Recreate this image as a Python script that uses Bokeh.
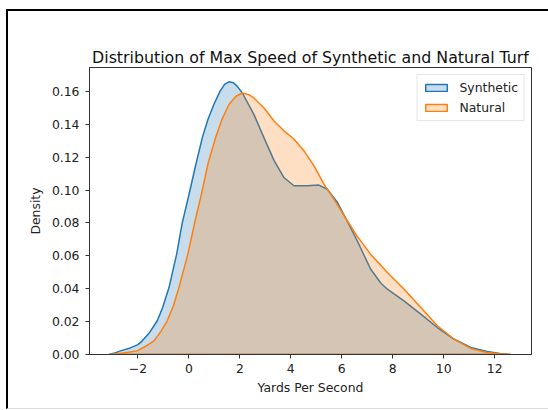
from bokeh.plotting import figure
from bokeh.layouts import column
from bokeh.models import Range1d, FixedTicker, NumeralTickFormatter, Legend, LegendItem
from bokeh.embed import file_html
from bokeh.resources import INLINE

title_text = "Distribution of Max Speed of Synthetic and Natural Turf"
x_label = "Yards Per Second"
y_label = "Density"
series_names = ["Synthetic", "Natural"]
x_ticks = [-2, 0, 2, 4, 6, 8, 10, 12]
y_ticks = [0.0, 0.02, 0.04, 0.06, 0.08, 0.10, 0.12, 0.14, 0.16]

syn_x = [-3.14, -2.9, -2.68, -2.3, -2.0, -1.83, -1.54, -1.24, -1.03, -0.78, -0.48, -0.26,
         0.0, 0.25, 0.53, 0.75, 0.98, 1.22, 1.4, 1.57, 1.75, 1.9, 2.1, 2.55, 2.94, 3.34, 3.73, 4.12,
         4.65, 5.1, 5.43, 5.83, 6.15, 6.61, 7.13, 7.53, 7.79, 8.44, 9.1, 9.75, 10.4, 11.06,
         11.7, 12.2, 12.63]
syn_y = [0.0, 0.001, 0.0022, 0.004, 0.006, 0.0083, 0.0134, 0.0205, 0.0286, 0.0407, 0.061, 0.080,
         0.097, 0.114, 0.132, 0.143, 0.152, 0.160, 0.1642, 0.1658, 0.1652, 0.163, 0.159, 0.146, 0.132, 0.118, 0.1076, 0.1026,
         0.1026, 0.103, 0.1005, 0.0924, 0.083, 0.069, 0.052, 0.0435, 0.0397, 0.0326, 0.0245, 0.0164, 0.0094, 0.0043,
         0.0018, 0.0006, 0.0]

nat_x = [-3.1, -2.8, -2.5, -2.03, -1.7, -1.37, -1.1, -0.85, -0.6, -0.39, -0.04, 0.24, 0.5, 0.75,
         1.05, 1.3, 1.57, 1.85, 2.1, 2.35, 2.55, 2.94, 3.34, 3.73, 4.12, 4.52, 4.91, 5.3, 5.69,
         6.15, 6.6, 7.13, 7.79, 8.44, 9.1, 9.75, 10.4, 11.06, 11.7, 12.2, 12.65]
nat_y = [0.0, 0.0004, 0.001, 0.0022, 0.005, 0.0083, 0.014, 0.0205, 0.030, 0.0407, 0.061, 0.081, 0.098, 0.116,
         0.132, 0.143, 0.152, 0.157, 0.159, 0.158, 0.156, 0.150, 0.142, 0.136, 0.131, 0.1238, 0.1147, 0.1036, 0.0945,
         0.083, 0.072, 0.061, 0.0499, 0.0398, 0.0286, 0.0175, 0.0094, 0.0037, 0.0012, 0.0004, 0.0]

colors = ["#1f77b4", "#ff7f0e"]
FONT = "DejaVu Sans"

p = figure(width=540, height=397, output_backend="svg", toolbar_location=None,
           x_range=Range1d(-3.9, 13.445), y_range=Range1d(0, 0.1745),
           min_border_left=81, min_border_right=17, min_border_top=56, min_border_bottom=54)

p.title.text = title_text
p.title.align = "center"
p.title.text_font = FONT
p.title.text_font_size = "15.8px"
p.title.text_font_style = "normal"
p.title.text_color = "#111111"
p.title.standoff = 2

p.xgrid.visible = False
p.ygrid.visible = False
p.outline_line_color = "#333333"
p.outline_line_width = 1

for ax in (p.xaxis[0], p.yaxis[0]):
    ax.axis_line_color = "#333333"
    ax.major_tick_line_color = "#333333"
    ax.major_tick_out = 4
    ax.major_tick_in = 0
    ax.minor_tick_line_color = None
    ax.major_label_text_font = FONT
    ax.major_label_text_font_size = "12.4px"
    ax.major_label_text_color = "#222222"
    ax.axis_label_text_font = FONT
    ax.axis_label_text_font_size = "12.4px"
    ax.axis_label_text_font_style = "normal"
    ax.axis_label_text_color = "#222222"

p.xaxis.ticker = FixedTicker(ticks=x_ticks)
p.xaxis.major_label_overrides = {-2: "\u22122"}
p.xaxis.major_label_standoff = 5
p.xaxis.axis_label = x_label
p.xaxis.axis_label_standoff = 4

p.yaxis.ticker = FixedTicker(ticks=y_ticks)
p.yaxis.formatter = NumeralTickFormatter(format="0.00")
p.yaxis.major_label_standoff = 6
p.yaxis.axis_label = y_label
p.yaxis.axis_label_standoff = 6

r_syn = p.patch(syn_x, syn_y, fill_color=colors[0], fill_alpha=0.25,
                line_color=colors[0], line_width=1.5)
r_nat = p.patch(nat_x, nat_y, fill_color=colors[1], fill_alpha=0.25,
                line_color=colors[1], line_width=1.5)

legend = Legend(items=[LegendItem(label=series_names[0], renderers=[r_syn]),
                       LegendItem(label=series_names[1], renderers=[r_nat])],
                location="top_right")
legend.label_text_font = FONT
legend.label_text_font_size = "12.4px"
legend.label_text_color = "#222222"
legend.glyph_width = 27
legend.glyph_height = 9
legend.label_height = 15
legend.spacing = 5
legend.padding = 5
legend.margin = 7
legend.label_standoff = 10
legend.border_line_color = "#cccccc"
legend.border_line_width = 1
legend.background_fill_alpha = 0.8
p.add_layout(legend, "center")

inner = column(p, styles={"border-left": "2px solid black", "border-top": "2px solid black",
                          "border-bottom": "1px solid #dddddd"})
outer = column(inner, styles={"padding-left": "6px", "padding-top": "9px",
                              "background-color": "white"})

open("out.html", "w").write(file_html(outer, INLINE))
